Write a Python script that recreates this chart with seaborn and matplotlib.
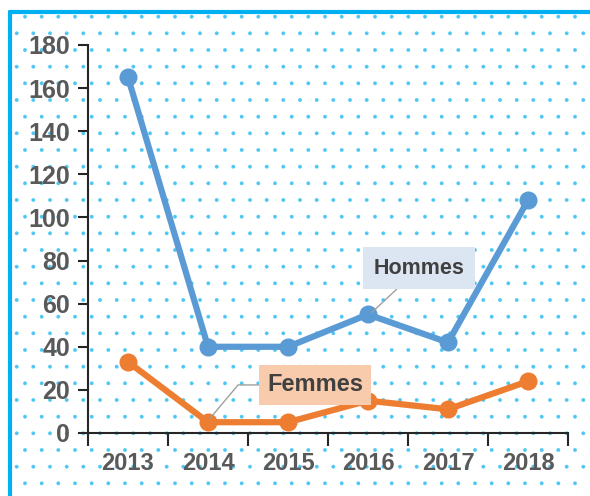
import pandas as pd
import matplotlib.pyplot as plt
import seaborn as sns
from matplotlib.patches import Rectangle
from matplotlib.ticker import FixedLocator

sns.set_theme(style="white")
plt.rcParams['font.family'] = ['Liberation Sans Narrow', 'Liberation Sans', 'DejaVu Sans']
plt.rcParams['hatch.color'] = '#4cc6f4'
plt.rcParams['hatch.linewidth'] = 0.3

# Data
years = ['2013', '2014', '2015', '2016', '2017', '2018']
hommes = [165, 40, 40, 55, 42, 108]
femmes = [33, 5, 5, 15, 11, 24]

df = pd.DataFrame({
    'year': years * 2,
    'value': hommes + femmes,
    'sexe': ['Hommes'] * len(years) + ['Femmes'] * len(years),
})

text_col = '#595959'
colors = {'Hommes': '#5b9bd5', 'Femmes': '#ed7d31'}

fig = plt.figure(figsize=(5.9, 4.96), dpi=100)

# dotted background with blue frame on top/left
bg = Rectangle((10 / 590, -0.1), 1.2, 1 - 12 / 496 + 0.1, transform=fig.transFigure,
               facecolor='white', edgecolor='#4cc6f4', hatch='.', linewidth=0, zorder=-2)
fig.add_artist(bg)
fig.add_artist(plt.Line2D([10 / 590, 10 / 590], [0, 1 - 12 / 496], transform=fig.transFigure,
                          color='#00b0f0', lw=3, zorder=-1))
fig.add_artist(plt.Line2D([10 / 590, 1], [1 - 12 / 496, 1 - 12 / 496], transform=fig.transFigure,
                          color='#00b0f0', lw=3, zorder=-1))

ax = fig.add_axes([88 / 590, 1 - 433 / 496, 480 / 590, 388 / 496])
ax.patch.set_visible(False)

sns.lineplot(data=df, x='year', y='value', hue='sexe', palette=colors, ax=ax,
             marker='o', markersize=13, markeredgewidth=0, linewidth=4.5, legend=False,
             sort=False)

ax.set_xlim(-0.5, len(years) - 0.5)
ax.set_ylim(0, 180)
ax.set_yticks(range(0, 181, 20))
ax.set_xlabel('')
ax.set_ylabel('')

for side in ['top', 'right']:
    ax.spines[side].set_visible(False)
for side in ['left', 'bottom']:
    ax.spines[side].set_color('#262626')
    ax.spines[side].set_linewidth(1.5)

ax.tick_params(axis='y', which='major', direction='out', length=7, width=1.5,
               color='#262626', labelsize=18, labelcolor=text_col, pad=6, left=True)
ax.tick_params(axis='x', which='major', length=0, labelsize=17, labelcolor=text_col, pad=14)
ax.xaxis.set_minor_locator(FixedLocator([i - 0.5 for i in range(len(years) + 1)]))
ax.tick_params(axis='x', which='minor', direction='out', length=9, width=1.5,
               color='#262626', bottom=True)
for lab in ax.get_xticklabels() + ax.get_yticklabels():
    lab.set_fontweight('bold')

# data labels with leader lines
ax.annotate('Hommes', xy=(3.05, 56), xytext=(3.64, 76.5), ha='center', va='center',
            fontsize=15.5, fontweight='bold', color='#404040',
            bbox=dict(boxstyle='square,pad=0.5', fc='#dce6f2', ec='none'),
            arrowprops=dict(arrowstyle='-', color='#a0a0a0', lw=1, shrinkA=0, shrinkB=0))
ax.annotate('Femmes', xy=(1.03, 7), xytext=(2.34, 22.3), ha='center', va='center',
            fontsize=17, fontweight='bold', color='#404040',
            bbox=dict(boxstyle='square,pad=0.35', fc='#f8cbad', ec='none'),
            arrowprops=dict(arrowstyle='-', color='#a0a0a0', lw=1, shrinkA=0, shrinkB=0,
                            connectionstyle='angle,angleA=0,angleB=50,rad=0'))

fig.savefig('out.png', dpi=100)
plt.close(fig)
